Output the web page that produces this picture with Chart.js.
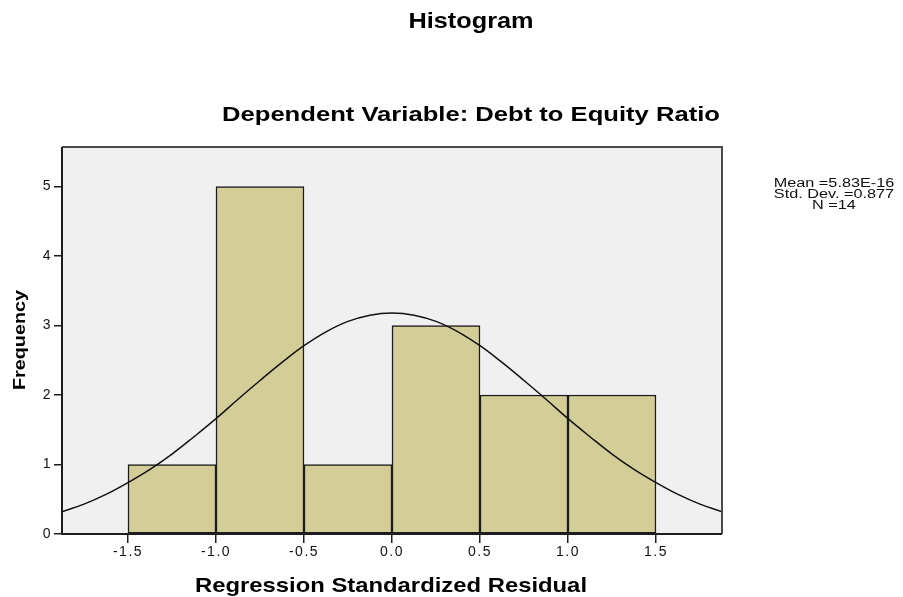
<!DOCTYPE html>
<html><head><meta charset="utf-8">
<script src="https://cdn.jsdelivr.net/npm/chart.js@4.4.1/dist/chart.umd.min.js"></script>
<style>html,body{margin:0;padding:0;background:#fff}canvas{display:block}</style>
</head><body>
<canvas id="c" width="903" height="597"></canvas>
<script>
// ---- data ----
const binCenters = [-1.25, -0.75, -0.25, 0.25, 0.75, 1.25];
const frequencies = [1, 5, 1, 3, 2, 2];
const curveX = [-1.875,-1.75,-1.625,-1.5,-1.375,-1.25,-1.125,-1.0,-0.875,-0.75,-0.625,-0.5,-0.375,-0.25,-0.125,0,
                 0.125,0.25,0.375,0.5,0.625,0.75,0.875,1.0,1.125,1.25,1.375,1.5,1.625,1.75,1.875];
const curveY = [0.32,0.43,0.57,0.74,0.93,1.15,1.40,1.66,1.94,2.21,2.47,2.71,2.91,3.06,3.15,3.18,
                3.15,3.06,2.91,2.71,2.47,2.21,1.94,1.66,1.40,1.15,0.93,0.74,0.57,0.43,0.32];
const xTicks = [-1.5, -1.0, -0.5, 0.0, 0.5, 1.0, 1.5];
const yTicks = [0, 1, 2, 3, 4, 5];
const titleText = 'Histogram';
const subtitleText = 'Dependent Variable: Debt to Equity Ratio';
const xTitle = 'Regression Standardized Residual';
const yTitle = 'Frequency';
const statsLines = ['Mean =5.83E-16', 'Std. Dev. =0.877', 'N =14'];

const FONT = '"Liberation Sans", Arial, sans-serif';

// draw text centred at cx, stretched horizontally by factor sx (or to a target width)
function drawStretched(ctx, text, cx, y, font, opts, color) {
  ctx.save();
  ctx.font = font;
  ctx.letterSpacing = '0px';
  const w = ctx.measureText(text).width;
  const sx = opts.width ? opts.width / w : opts.sx;
  ctx.translate(cx, y);
  ctx.scale(sx, 1);
  ctx.textAlign = 'center';
  ctx.textBaseline = 'alphabetic';
  ctx.fillStyle = color;
  ctx.fillText(text, 0, 0);
  ctx.restore();
}

const decor = {
  id: 'decor',
  beforeDraw(chart) {
    const {ctx, chartArea: a} = chart;
    ctx.save();
    ctx.fillStyle = '#f0f0f0';
    ctx.fillRect(a.left, a.top, a.right - a.left, a.bottom - a.top);
    ctx.restore();
    ctx.letterSpacing = '1.5px';
  },
  afterDatasetsDraw(chart) {
    const {ctx, chartArea: a} = chart;
    ctx.save();
    ctx.lineWidth = 2;
    ctx.strokeStyle = '#4a4a4a';
    ctx.beginPath();
    ctx.moveTo(a.left, a.top); ctx.lineTo(a.right, a.top); ctx.lineTo(a.right, a.bottom);
    ctx.stroke();
    ctx.strokeStyle = '#1e1e1e';
    ctx.beginPath();
    ctx.moveTo(a.left, a.top); ctx.lineTo(a.left, a.bottom); ctx.lineTo(a.right, a.bottom);
    ctx.stroke();
    ctx.restore();
  },
  afterDraw(chart) {
    const {ctx} = chart;
    drawStretched(ctx, titleText, 471, 28, 'bold 22px ' + FONT, {width: 125}, '#000');
    drawStretched(ctx, subtitleText, 471, 121, 'bold 21px ' + FONT, {width: 498}, '#000');
    drawStretched(ctx, xTitle, 391, 592, 'bold 21px ' + FONT, {width: 392}, '#000');
    ctx.save();
    ctx.translate(25, 340);
    ctx.rotate(-Math.PI / 2);
    drawStretched(ctx, yTitle, 0, 0, 'bold 17px ' + FONT, {width: 100}, '#000');
    ctx.restore();
    statsLines.forEach((t, i) => drawStretched(ctx, t, 834, 187 + i * 11, '12.5px ' + FONT, {sx: 1.3}, '#111'));
  }
};

new Chart(document.getElementById('c'), {
  type: 'bar',
  data: {
    datasets: [
      {
        type: 'line',
        data: curveX.map((x, i) => ({x, y: curveY[i]})),
        borderColor: '#111',
        borderWidth: 1.5,
        pointRadius: 0,
        tension: 0.4,
        fill: false,
        order: 0
      },
      {
        type: 'bar',
        data: binCenters.map((x, i) => ({x, y: frequencies[i]})),
        backgroundColor: '#d3ce98',
        borderColor: '#1a1a1a',
        borderWidth: 1.5,
        borderSkipped: false,
        barPercentage: 1,
        categoryPercentage: 1,
        order: 1
      }
    ]
  },
  options: {
    responsive: false,
    animation: false,
    layout: {padding: {top: 147, right: 181, bottom: 0, left: 0}},
    plugins: {legend: {display: false}, tooltip: {enabled: false}, title: {display: false}},
    scales: {
      x: {
        type: 'linear', min: -1.875, max: 1.875, offset: false,
        afterBuildTicks: s => { s.ticks = xTicks.map(v => ({value: v})); },
        afterFit: s => { s.height = 63; },
        ticks: {callback: v => Number(v).toFixed(1), font: {family: FONT, size: 14}, color: '#111', padding: 1, maxRotation: 0, autoSkip: false},
        grid: {display: true, offset: false, drawOnChartArea: false, drawTicks: true, tickLength: 9, color: '#1e1e1e', lineWidth: 1.5},
        border: {display: false}
      },
      y: {
        type: 'linear', min: 0, max: 5.57,
        afterBuildTicks: s => { s.ticks = yTicks.map(v => ({value: v})); },
        afterFit: s => { s.width = 62; },
        ticks: {callback: v => String(v), font: {family: FONT, size: 14}, color: '#111', padding: 2, autoSkip: false},
        grid: {display: true, offset: false, drawOnChartArea: false, drawTicks: true, tickLength: 8, color: '#1e1e1e', lineWidth: 1.5},
        border: {display: false}
      }
    }
  },
  plugins: [decor]
});
</script>
</body></html>
